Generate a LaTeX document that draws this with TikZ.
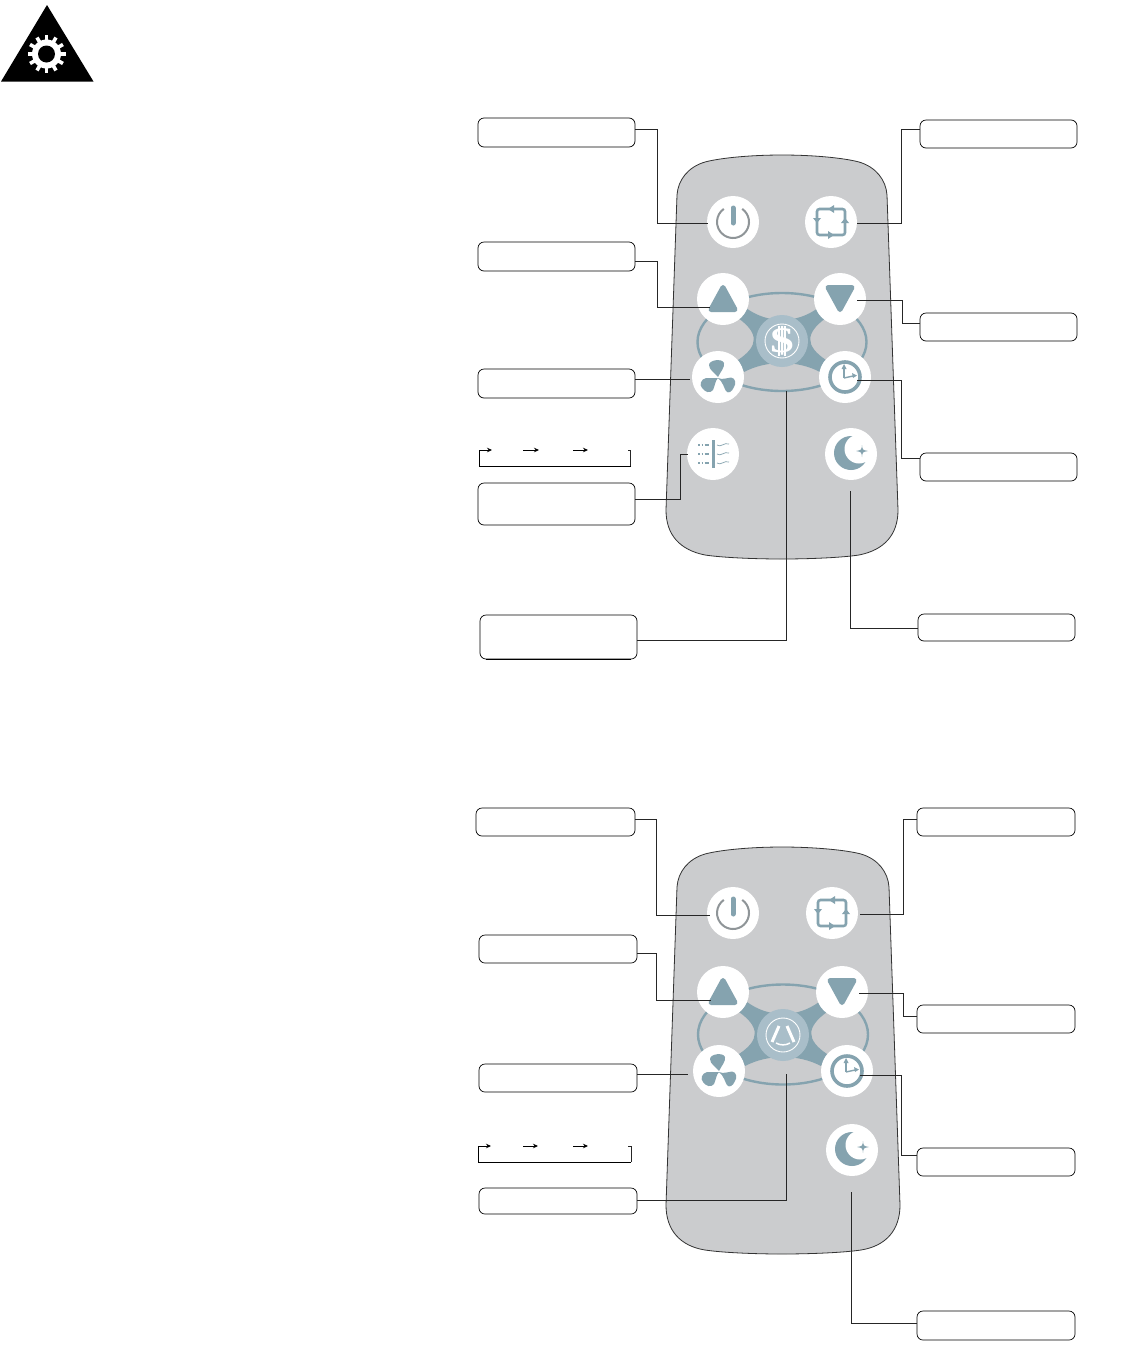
\documentclass[tikz,border=0pt]{standalone}
\usepackage{graphicx}
\usepackage{fontspec}
\setmainfont{DejaVu Sans}
\newfontfamily\dollarfont{Liberation Serif}
\usetikzlibrary{arrows.meta}
\definecolor{teal}{HTML}{85A3AF}
\definecolor{hub}{HTML}{A9BEC9}
\definecolor{shell}{HTML}{CBCCCE}
\definecolor{pwrgray}{HTML}{8F9598}
\tikzset{
 x=1pt,y=-1pt,
 lbl/.style={draw=black,line width=0.7pt,fill=white,rounded corners=6pt,inner sep=0pt},
 btn/.style={circle,fill=white,minimum size=52pt,inner sep=0pt},
 hubbtn/.style={circle,fill=hub,minimum size=52pt,inner sep=0pt},
 wire/.style={draw=black!85,line width=0.8pt},
 tiparrow/.style={draw=black,line width=0.8pt,-{Stealth[length=5pt,width=4.5pt]}},
 shellbody/.style={fill=shell,draw=black!80,line width=0.8pt},
 powericon/.pic={
  \draw[pwrgray,line width=2pt] (-55:16) arc[start angle=-55,end angle=235,radius=16];
  \draw[teal,line width=5pt,line cap=round] (0,-14) -- (0,1);
 },
 cycleicon/.pic={
  \draw[teal,line width=2.6pt,rounded corners=2.5pt] (-14,-13) rectangle (14,13);
  \fill[teal] (-3,-13) -- (3,-17) -- (3,-9) -- cycle;
  \fill[teal] (3,13) -- (-3,17) -- (-3,9) -- cycle;
  \fill[teal] (-14,1) -- (-18,-4) -- (-10,-4) -- cycle;
  \fill[teal] (14,-4) -- (18,1) -- (10,1) -- cycle;
 },
 upicon/.pic={
  \fill[teal,draw=teal,line width=5pt,line join=round] (0,-11.5) -- (12,10.5) -- (-12,10.5) -- cycle;
 },
 downicon/.pic={
  \fill[teal,draw=teal,line width=5pt,line join=round] (0,10.5) -- (12,-11.5) -- (-12,-11.5) -- cycle;
 },
 fanicon/.pic={
  \fill[teal] (0,0) .. controls (-3,-4) and (-9,-7) .. (-9,-12) .. controls (-9,-17) and (4,-19) .. (6,-14) .. controls (7,-10) and (3,-6) .. (0,0) -- cycle;
  \fill[teal] (0,1) .. controls (-4,1) and (-9,1) .. (-12,1) .. controls (-17,2) and (-19,8) .. (-16,11) .. controls (-13,15) and (-8,17) .. (-5,13) .. controls (-3,9) and (-3,4) .. (0,1) -- cycle;
  \fill[teal] (0,1) .. controls (4,3) and (9,1) .. (13,0.5) .. controls (18,1) and (18,7) .. (16,10) .. controls (14,15) and (10,17) .. (8,14) .. controls (6,11) and (5,5) .. (0,1) -- cycle;
 },
 clockicon/.pic={
  \draw[teal,line width=3.6pt] (0,0) circle[radius=15];
  \draw[teal,line width=1.4pt] (-1,1) -- (-1,-9);
  \fill[teal] (-1,-13) -- (-3.5,-8) -- (1.5,-8) -- cycle;
  \draw[teal,line width=1.4pt] (-1,1) -- (8,-1);
  \fill[teal] (12,-1.5) -- (7,-4) -- (8,1) -- cycle;
 },
 moonicon/.pic={
  \fill[teal] (0,-1) circle[radius=17];
  \fill[white] (8,-5) circle[radius=14.5];
  \fill[teal] (11,-9) .. controls (11.5,-4) and (11.5,-4) .. (17,-3) .. controls (11.5,-2) and (11.5,-2) .. (11,3) .. controls (10.5,-2) and (10.5,-2) .. (5,-3) .. controls (10.5,-4) and (10.5,-4) .. (11,-9) -- cycle;
 },
 filtericon/.pic={
  \draw[teal,line width=3pt] (0,-14) -- (0,14);
  \foreach \y in {-9,0,9}{
   \draw[teal,line width=2.2pt,dash pattern=on 1.5pt off 2pt on 1.5pt off 1.5pt on 4pt off 9pt] (-15,\y) -- (-2,\y);
   \draw[teal,line width=0.7pt] (4,\y) .. controls (8,\y+3) and (11,\y-3) .. (16,\y-1);
  }
 },
 bandshape/.pic={
  \fill[teal] (-36,-33) .. controls (-14,-17) and (14,-17) .. (36,-33) -- (44,-23)
   .. controls (23,-8) and (23,5) .. (44,19) -- (38,31)
   .. controls (15,19) and (-15,19) .. (-38,31) -- (-44,19)
   .. controls (-23,5) and (-23,-8) .. (-44,-23) -- cycle;
 },
}
\begin{document}
\begin{tikzpicture}
\useasboundingbox (0,0) rectangle (1134,1366);
\fill[white] (0,0) rectangle (1134,1366);
% warning triangle
\fill[black] (47,5) -- (93.5,81.5) -- (1,81.5) -- cycle;
\fill[white] (46.5,54) circle[radius=14.5];
\foreach \a in {0,30,...,330}{
 \draw[white,line width=3.6pt] (46.5,54) ++(\a:12) -- ++(\a:7);
}
\fill[black] (46.5,54) circle[radius=8.5];

% ---- upper remote ----
\draw[shellbody] (782,155) .. controls (750,155) and (720,158) .. (705,162)
 .. controls (688,167) and (678,180) .. (677,195) -- (666,510)
 .. controls (666,535) and (680,550) .. (705,555)
 .. controls (725,558) and (760,559) .. (782,559)
 .. controls (804,559) and (839,558) .. (859,555)
 .. controls (884,550) and (898,535) .. (898,510) -- (887,195)
 .. controls (886,180) and (876,167) .. (859,162)
 .. controls (844,158) and (814,155) .. (782,155) -- cycle;
\draw[teal,line width=2.4pt] (782,342) ellipse[x radius=84.5,y radius=49];
\pic at (782,341) {bandshape};
\node[hubbtn] (ahub) at (782,341) {};
\node[btn] (apower) at (733,222) {};
\node[btn] (acycle) at (831,222) {};
\node[btn] (aup) at (723,299) {};
\node[btn] (adown) at (840,299) {};
\node[btn] (afan) at (718,377) {};
\node[btn] (aclock) at (845,377) {};
\node[btn] (afilter) at (713,454) {};
\node[btn] (amoon) at (851,454) {};
\pic at (apower) {powericon};
\pic at (acycle) {cycleicon};
\pic at (aup) {upicon};
\pic at (adown) {downicon};
\pic at (afan) {fanicon};
\pic at (aclock) {clockicon};
\pic at (afilter) {filtericon};
\pic at (amoon) {moonicon};
\draw[white,line width=0.9pt] (ahub) circle[radius=17];
\draw[white,line width=1.6pt] (779,326) -- (779,356) (785,326) -- (785,356);
\node[text=white,font=\dollarfont\bfseries\fontsize{36}{36}\selectfont,inner sep=0pt] (adollar) at (ahub) {\scalebox{1.3}[1]{\$}};

% upper labels
\node[lbl,minimum width=157pt,minimum height=29pt] (a1) at (556.5,132.5) {};
\node[lbl,minimum width=157pt,minimum height=28pt] (a2) at (998.5,134) {};
\node[lbl,minimum width=157pt,minimum height=29pt] (a3) at (556.5,256.5) {};
\node[lbl,minimum width=157pt,minimum height=28pt] (a4) at (998.5,327) {};
\node[lbl,minimum width=157pt,minimum height=29pt] (a5) at (556.5,383.5) {};
\node[lbl,minimum width=157pt,minimum height=28pt] (a6) at (998.5,467) {};
\node[lbl,minimum width=157pt,minimum height=42pt] (a7) at (556.5,504) {};
\node[lbl,minimum width=157pt,minimum height=44pt] (a8) at (558.5,637) {};
\node[lbl,minimum width=157pt,minimum height=27pt] (a9) at (996.5,627.5) {};
\draw[black,line width=1.3pt] ([xshift=6pt]a8.south west) -- ([xshift=-6pt]a8.south east);
\coordinate (at1) at (708,223);
\coordinate (at2) at (857,223);
\coordinate (at3) at (710,307);
\coordinate (at4) at (857,300);
\coordinate (at5) at (690,379);
\coordinate (at6) at (857,380);
\coordinate (at7) at (688,454);
\coordinate (at8) at (786,391);
\coordinate (at9) at (850,491);
\draw[wire] (a1.east |- 0,129) -- (657,129) -- (657,223) -- (at1);
\draw[wire] (a2.west |- 0,129) -- (901,129) -- (901,223) -- (at2);
\draw[wire] (a3.east |- 0,261) -- (657,261) -- (657,307) -- (at3);
\draw[wire] (a4.west |- 0,323) -- (902,323) -- (902,300) -- (at4);
\draw[wire] (a5.east |- 0,379) -- (at5);
\draw[wire] (a6.west |- 0,458) -- (901,458) -- (901,380) -- (at6);
\draw[wire] (a7.east |- 0,499) -- (680,499) -- (680,454) -- (at7);
\draw[wire] (a8.east |- 0,640) -- (786,640) -- (at8);
\draw[wire] (a9.west |- 0,628) -- (850,628) -- (at9);
% upper cycle bracket
\draw[tiparrow] (631,466) -- (479,466) -- (479,450) -- (492,450);
\draw[tiparrow] (523,450) -- (539,450);
\draw[tiparrow] (573,450) -- (588,450);
\draw[wire] (628,450) -- (630.5,450) -- (630.5,466);

% ---- lower remote ----
\draw[shellbody] (782,847) .. controls (750,847) and (720,850) .. (705,854)
 .. controls (688,859) and (678,872) .. (677,887) -- (666,1205)
 .. controls (666,1230) and (680,1246) .. (705,1250)
 .. controls (725,1253) and (760,1254) .. (782,1254)
 .. controls (804,1254) and (841,1253) .. (861,1250)
 .. controls (886,1246) and (900,1230) .. (900,1205) -- (889,887)
 .. controls (888,872) and (878,859) .. (861,854)
 .. controls (846,850) and (814,847) .. (782,847) -- cycle;
\draw[teal,line width=2.4pt] (783,1034.5) ellipse[x radius=85,y radius=50];
\pic at (783,1035) {bandshape};
\node[hubbtn] (bhub) at (783,1035) {};
\node[btn] (bpower) at (733,913) {};
\node[btn] (bcycle) at (832,913) {};
\node[btn] (bup) at (723,992) {};
\node[btn] (bdown) at (842,992) {};
\node[btn] (bfan) at (719,1071) {};
\node[btn] (bclock) at (847,1071) {};
\node[btn] (bmoon) at (852,1150) {};
\pic at (bpower) {powericon};
\pic at (bcycle) {cycleicon};
\pic at (bup) {upicon};
\pic at (bdown) {downicon};
\pic at (bfan) {fanicon};
\pic at (bclock) {clockicon};
\pic at (bmoon) {moonicon};
\draw[white,line width=0.9pt] (bhub) circle[radius=17];
\draw[white,line width=3pt] (779,1026) -- (772,1042);
\draw[white,line width=3pt] (787,1026) -- (794,1042);
\draw[white,line width=1.5pt] (776,1043) .. controls (780,1045.5) and (786,1045.5) .. (790,1043);

% lower labels
\node[lbl,minimum width=159pt,minimum height=28pt] (b1) at (555.5,822) {};
\node[lbl,minimum width=158pt,minimum height=28pt] (b2) at (996,822) {};
\node[lbl,minimum width=158pt,minimum height=28pt] (b3) at (558,949) {};
\node[lbl,minimum width=158pt,minimum height=28pt] (b4) at (996,1019) {};
\node[lbl,minimum width=158pt,minimum height=28pt] (b5) at (558,1078) {};
\node[lbl,minimum width=158pt,minimum height=28pt] (b6) at (996,1162) {};
\node[lbl,minimum width=158pt,minimum height=26pt] (b7) at (558,1201) {};
\node[lbl,minimum width=158pt,minimum height=29pt] (b8) at (996,1325.5) {};
\coordinate (bt1) at (710,915);
\coordinate (bt2) at (860,914);
\coordinate (bt3) at (711,1000);
\coordinate (bt4) at (859,993);
\coordinate (bt5) at (688,1074);
\coordinate (bt6) at (860,1075);
\coordinate (bt7) at (786,1074);
\coordinate (bt8) at (851,1192);
\draw[wire] (b1.east |- 0,819) -- (656,819) -- (656,915) -- (bt1);
\draw[wire] (b2.west |- 0,819) -- (903,819) -- (903,914) -- (bt2);
\draw[wire] (b3.east |- 0,953) -- (656,953) -- (656,1000) -- (bt3);
\draw[wire] (b4.west |- 0,1016) -- (903,1016) -- (903,993) -- (bt4);
\draw[wire] (b5.east |- 0,1074) -- (bt5);
\draw[wire] (b6.west |- 0,1155) -- (901,1155) -- (901,1075) -- (bt6);
\draw[wire] (b7.east |- 0,1200) -- (786,1200) -- (bt7);
\draw[wire] (b8.west |- 0,1323) -- (851,1323) -- (bt8);
% lower cycle bracket
\draw[tiparrow] (631,1162) -- (478,1162) -- (478,1146) -- (491,1146);
\draw[tiparrow] (523,1146) -- (538,1146);
\draw[tiparrow] (573,1146) -- (588,1146);
\draw[wire] (628,1146) -- (631,1146) -- (631,1162);
\end{tikzpicture}
\end{document}
